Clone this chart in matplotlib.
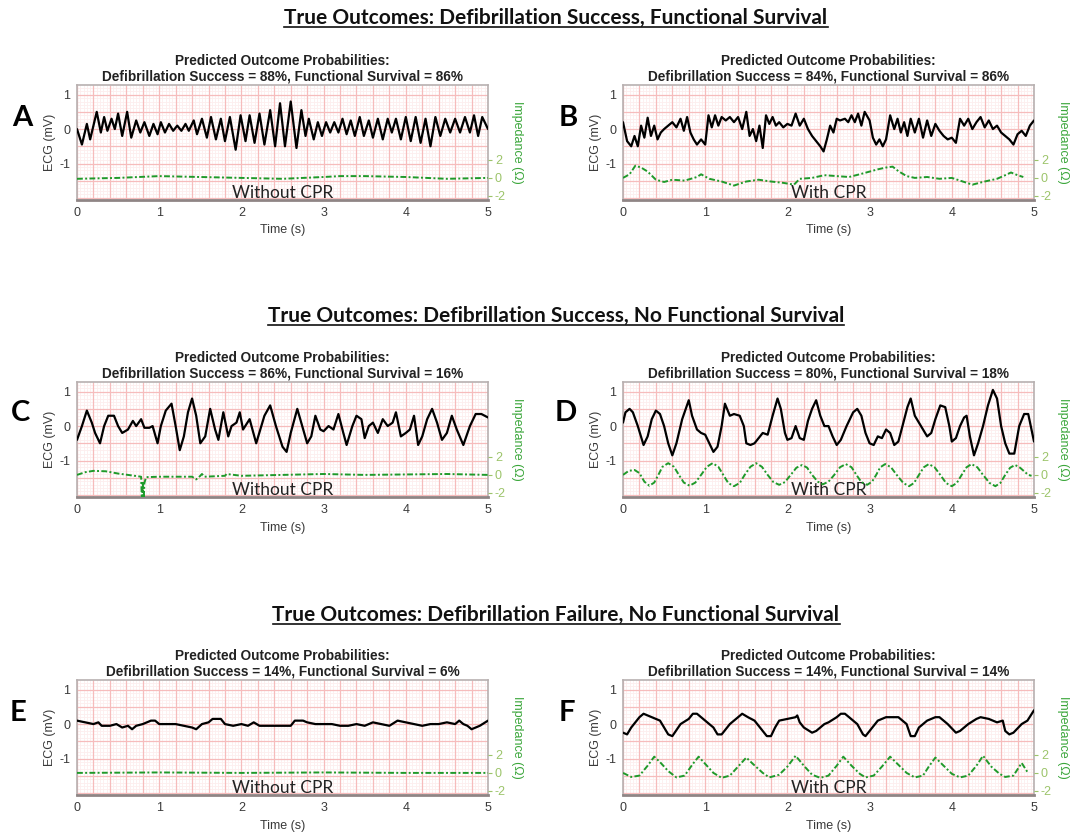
import matplotlib
matplotlib.use("Agg")
import matplotlib.pyplot as plt
import numpy as np
from matplotlib.lines import Line2D

plt.rcParams["axes.unicode_minus"] = False

# ---- values ------------------------------------------------------------
row_titles = [
    "True Outcomes: Defibrillation Success, Functional Survival",
    "True Outcomes: Defibrillation Success, No Functional Survival",
    "True Outcomes: Defibrillation Failure, No Functional Survival",
]
panel_letters = ["A", "B", "C", "D", "E", "F"]
defib_success = [88, 84, 86, 80, 14, 14]
functional_survival = [86, 86, 16, 18, 6, 14]
cpr_labels = ["Without CPR", "With CPR", "Without CPR", "With CPR", "Without CPR", "With CPR"]

# panel A
a_ecg_t = [0.0, 0.06, 0.12, 0.16, 0.24, 0.29, 0.33, 0.37, 0.42, 0.46, 0.50, 0.55, 0.61, 0.66,
           0.72, 0.77, 0.82, 0.88, 0.93, 0.98, 1.02, 1.07, 1.12, 1.17, 1.22, 1.27, 1.32, 1.36,
           1.42, 1.46, 1.52, 1.58, 1.63, 1.69, 1.75, 1.80, 1.86, 1.93, 1.99, 2.05, 2.10, 2.16,
           2.22, 2.28, 2.35, 2.41, 2.47, 2.53, 2.60, 2.67, 2.73, 2.78, 2.82, 2.88, 2.93, 2.98,
           3.03, 3.08, 3.13, 3.18, 3.23, 3.28, 3.33, 3.38, 3.44, 3.49, 3.55, 3.60, 3.66, 3.72,
           3.78, 3.83, 3.88, 3.94, 4.00, 4.06, 4.12, 4.18, 4.24, 4.30, 4.36, 4.42, 4.48, 4.54,
           4.60, 4.66, 4.72, 4.78, 4.83, 4.88, 4.93, 5.0]
a_ecg_v = [0.0, -0.45, 0.15, -0.3, 0.5, -0.1, 0.35, -0.05, 0.3, 0.0, 0.45, -0.2, 0.5, -0.25,
           0.25, -0.1, 0.2, -0.2, 0.15, -0.15, 0.2, -0.1, 0.15, -0.05, 0.1, -0.05, 0.15, -0.05,
           0.25, -0.15, 0.3, -0.25, 0.35, -0.3, 0.3, -0.35, 0.35, -0.6, 0.4, -0.35, 0.4, -0.4,
           0.45, -0.45, 0.55, -0.5, 0.75, -0.5, 0.8, -0.55, 0.55, -0.2, 0.3, -0.3, 0.2, -0.2,
           0.2, -0.1, 0.2, -0.1, 0.3, -0.15, 0.25, -0.2, 0.35, -0.2, 0.25, -0.25, 0.3, -0.3,
           0.3, -0.1, 0.3, -0.3, 0.35, -0.35, 0.35, -0.4, 0.3, -0.5, 0.35, -0.2, 0.3, -0.1,
           0.3, -0.1, 0.35, -0.1, 0.4, -0.2, 0.35, 0.0]
a_imp_t = [0.0, 0.5, 1.0, 1.5, 2.0, 2.5, 3.0, 3.2, 3.5, 4.0, 4.5, 5.0]
a_imp_v = [-0.1, 0.0, 0.2, 0.1, 0.0, -0.1, 0.1, 0.2, 0.2, 0.1, -0.1, 0.0]

# panel B
b_ecg_t = [0.0, 0.05, 0.1, 0.14, 0.18, 0.22, 0.26, 0.3, 0.34, 0.38, 0.42, 0.46, 0.5, 0.55,
           0.6, 0.65, 0.7, 0.74, 0.78, 0.82, 0.86, 0.9, 0.95, 1.0, 1.04, 1.08, 1.12, 1.16,
           1.2, 1.25, 1.3, 1.35, 1.4, 1.45, 1.5, 1.54, 1.58, 1.62, 1.66, 1.7, 1.74, 1.78,
           1.82, 1.86, 1.9, 1.95, 2.0, 2.05, 2.1, 2.15, 2.2, 2.25, 2.3, 2.35, 2.4, 2.44,
           2.48, 2.52, 2.56, 2.6, 2.64, 2.7, 2.74, 2.78, 2.82, 2.86, 2.9, 2.94, 3.0, 3.04,
           3.08, 3.12, 3.16, 3.2, 3.25, 3.3, 3.34, 3.38, 3.42, 3.46, 3.5, 3.55, 3.6, 3.65,
           3.7, 3.75, 3.8, 3.85, 3.9, 3.95, 4.0, 4.05, 4.1, 4.15, 4.2, 4.25, 4.3, 4.35,
           4.4, 4.45, 4.5, 4.55, 4.6, 4.65, 4.7, 4.75, 4.8, 4.85, 4.9, 4.95, 5.0]
b_ecg_v = [0.2, -0.35, -0.5, -0.2, -0.5, 0.1, -0.25, 0.33, -0.2, 0.1, -0.3, -0.1, 0.0, 0.1,
           0.2, 0.05, 0.3, -0.05, 0.35, -0.1, -0.3, -0.45, -0.3, -0.45, 0.4, 0.05, 0.4, 0.1,
           0.35, 0.25, 0.35, 0.2, 0.35, 0.0, 0.5, -0.2, 0.0, -0.35, 0.1, -0.55, 0.4, 0.15,
           0.35, 0.1, 0.2, 0.05, 0.15, 0.1, 0.45, 0.1, 0.3, 0.0, -0.2, -0.35, -0.5, -0.65,
           -0.3, 0.1, -0.1, 0.3, 0.25, 0.3, 0.2, 0.4, 0.2, 0.45, 0.1, 0.5, 0.25, -0.25,
           -0.45, -0.3, -0.5, -0.3, 0.4, 0.0, 0.3, -0.1, 0.2, -0.2, 0.3, -0.1, 0.3, -0.25,
           0.25, -0.2, 0.15, -0.05, -0.2, -0.3, -0.25, -0.4, 0.3, 0.1, 0.3, 0.0, 0.2, 0.35,
           0.05, 0.25, 0.0, 0.1, -0.1, -0.2, -0.3, -0.45, -0.15, -0.05, -0.2, 0.1, 0.25]
b_imp_t = [0.0, 0.08, 0.15, 0.22, 0.3, 0.4, 0.5, 0.6, 0.75, 0.9, 0.95, 1.05, 1.2, 1.35,
           1.5, 1.65, 1.8, 1.95, 2.08, 2.15, 2.3, 2.45, 2.6, 2.75, 2.9, 3.0, 3.1, 3.2, 3.28,
           3.35, 3.45, 3.55, 3.7, 3.85, 4.0, 4.1, 4.25, 4.4, 4.55, 4.65, 4.72, 4.8, 4.87]
b_imp_v = [0.0, 0.4, 1.35, 1.15, 0.7, -0.2, -0.45, -0.2, -0.3, 0.1, 0.4, -0.1, -0.4, -0.85,
           -0.4, -0.2, -0.4, -0.55, -0.75, -0.1, 0.0, 0.3, 0.2, 0.1, 0.45, 0.7, 0.95, 1.15, 1.25,
           0.75, 0.2, 0.0, 0.1, -0.1, 0.0, -0.3, -0.75, -0.4, -0.1, 0.3, 0.6, 0.3, 0.1]

# panel C
c_ecg_t = [0.0, 0.06, 0.12, 0.18, 0.22, 0.28, 0.33, 0.38, 0.45, 0.5, 0.55, 0.62, 0.68, 0.72,
           0.78, 0.82, 0.88, 0.92, 0.98, 1.02, 1.08, 1.15, 1.2, 1.25, 1.3, 1.35, 1.4, 1.45,
           1.5, 1.56, 1.62, 1.68, 1.72, 1.78, 1.84, 1.88, 1.94, 1.98, 2.02, 2.1, 2.18, 2.28,
           2.35, 2.42, 2.5, 2.55, 2.6, 2.68, 2.74, 2.8, 2.85, 2.9, 2.96, 3.0, 3.06, 3.12,
           3.18, 3.24, 3.28, 3.35, 3.4, 3.46, 3.5, 3.55, 3.6, 3.66, 3.72, 3.78, 3.84, 3.88,
           3.94, 4.0, 4.05, 4.1, 4.15, 4.2, 4.26, 4.32, 4.38, 4.44, 4.5, 4.56, 4.62, 4.7,
           4.78, 4.85, 4.92, 5.0]
c_ecg_v = [-0.4, 0.0, 0.45, 0.1, -0.2, -0.5, 0.0, 0.3, 0.3, 0.0, -0.2, -0.1, 0.15, 0.0,
           0.2, -0.05, -0.05, 0.0, -0.5, 0.0, 0.45, 0.65, 0.0, -0.7, -0.3, 0.4, 0.8, 0.3,
           -0.5, -0.3, 0.5, -0.1, -0.4, 0.4, -0.3, 0.0, 0.1, 0.4, -0.1, 0.2, -0.5, 0.3,
           0.6, 0.0, -0.6, -0.75, -0.2, 0.5, 0.0, -0.5, -0.3, 0.3, -0.1, -0.15, 0.0, -0.1,
           0.35, -0.2, -0.55, 0.0, 0.3, 0.2, -0.35, 0.0, 0.1, -0.2, 0.2, 0.0, 0.1, 0.4,
           -0.3, -0.2, -0.1, 0.3, -0.55, -0.3, 0.2, 0.5, 0.1, -0.4, -0.2, 0.3, -0.1, -0.55,
           0.0, 0.35, 0.35, 0.25]
c_imp_t = [0.0, 0.1, 0.2, 0.35, 0.5, 0.7, 0.78, 0.79, 0.8, 0.81, 0.82, 0.84, 1.0, 1.4,
           1.45, 1.5, 1.52, 1.55, 1.8, 1.82, 2.0, 2.5, 3.0, 3.5, 4.0, 4.5, 5.0]
c_imp_v = [0.0, 0.3, 0.45, 0.4, 0.15, -0.1, -0.2, -3.0, -0.7, -3.0, -0.9, -0.25, -0.2, -0.2,
           -0.5, -0.1, 0.1, -0.2, -0.1, 0.1, -0.1, 0.0, 0.1, 0.0, 0.05, 0.1, 0.0]

# panel D
d_ecg_t = [0.0, 0.03, 0.08, 0.12, 0.18, 0.25, 0.3, 0.35, 0.4, 0.45, 0.5, 0.55, 0.6, 0.65,
           0.72, 0.8, 0.84, 0.9, 0.95, 1.0, 1.05, 1.1, 1.15, 1.2, 1.24, 1.3, 1.35, 1.42,
           1.47, 1.5, 1.55, 1.6, 1.7, 1.76, 1.82, 1.88, 1.92, 1.97, 2.0, 2.05, 2.1, 2.15,
           2.2, 2.25, 2.3, 2.35, 2.4, 2.45, 2.5, 2.55, 2.6, 2.65, 2.72, 2.8, 2.85, 2.9,
           2.95, 3.0, 3.05, 3.1, 3.15, 3.2, 3.25, 3.3, 3.35, 3.4, 3.46, 3.5, 3.55, 3.6,
           3.65, 3.7, 3.75, 3.8, 3.86, 3.92, 3.97, 4.0, 4.05, 4.1, 4.15, 4.18, 4.22, 4.27,
           4.32, 4.38, 4.44, 4.5, 4.55, 4.6, 4.65, 4.7, 4.76, 4.82, 4.88, 4.93, 5.0]
d_ecg_v = [0.1, 0.4, 0.5, 0.4, 0.0, -0.55, -0.3, 0.2, 0.45, 0.35, 0.0, -0.5, -0.85, -0.5,
           0.2, 0.75, 0.3, -0.1, -0.2, -0.25, -0.5, -0.75, -0.6, 0.0, 0.65, 0.3, 0.35, 0.3,
           0.0, -0.5, -0.55, -0.5, -0.2, -0.25, 0.3, 0.8, 0.5, -0.2, -0.4, -0.35, 0.0, -0.35,
           -0.4, 0.15, 0.5, 0.75, 0.3, 0.0, 0.0, -0.3, -0.55, -0.4, 0.0, 0.4, 0.5, 0.3,
           -0.2, -0.5, -0.55, -0.3, -0.35, -0.1, -0.2, -0.55, -0.45, 0.0, 0.55, 0.8, 0.3, 0.1,
           -0.1, -0.3, -0.2, 0.2, 0.6, 0.55, 0.0, -0.45, -0.35, 0.0, 0.25, 0.3, -0.3, -0.85,
           -0.5, 0.0, 0.6, 1.05, 0.8, 0.0, -0.5, -0.8, -0.8, 0.0, 0.35, 0.35, -0.45]
d_imp_t = [0.0, 0.07, 0.14, 0.2, 0.26, 0.32, 0.38, 0.43, 0.48, 0.55, 0.62, 0.68, 0.74, 0.81,
           0.88, 0.95, 1.02, 1.09, 1.16, 1.22, 1.28, 1.35, 1.42, 1.48, 1.55, 1.62, 1.69, 1.76,
           1.83, 1.9, 1.97, 2.04, 2.11, 2.18, 2.24, 2.3, 2.37, 2.43, 2.5, 2.57, 2.64, 2.71,
           2.78, 2.84, 2.9, 2.97, 3.03, 3.08, 3.13, 3.19, 3.26, 3.33, 3.41, 3.48, 3.54, 3.6,
           3.66, 3.72, 3.79, 3.86, 3.93, 4.0, 4.06, 4.12, 4.18, 4.24, 4.31, 4.38, 4.46, 4.53,
           4.59, 4.65, 4.71, 4.77, 4.83, 4.88, 4.93, 4.97]
d_imp_v = [0.0, 0.45, 0.55, 0.2, -0.75, -1.2, -0.85, 0.0, 0.9, 1.3, 0.9, 0.0, -0.85, -1.2,
           -0.85, 0.0, 0.9, 1.3, 0.9, 0.0, -0.9, -1.25, -0.9, 0.0, 0.9, 1.3, 0.9, 0.0,
           -0.8, -1.1, -0.8, 0.0, 0.8, 1.1, 0.8, 0.0, -0.75, -1.05, -0.75, 0.0, 0.85, 1.2,
           0.85, 0.0, -0.8, -1.1, -0.75, 0.0, 0.85, 1.2, 0.85, 0.0, -0.9, -1.25, -0.9, 0.0,
           0.85, 1.2, 0.85, 0.0, -0.9, -1.25, -0.9, 0.0, 0.85, 1.2, 0.85, 0.0, -0.9, -1.25,
           -0.9, 0.0, 0.8, 1.1, 0.8, 0.4, 0.0, -0.1]

# panel E
e_ecg_t = [0.0, 0.1, 0.2, 0.26, 0.3, 0.4, 0.48, 0.55, 0.62, 0.67, 0.72, 0.8, 0.9, 0.95,
           1.0, 1.1, 1.2, 1.3, 1.4, 1.45, 1.52, 1.6, 1.65, 1.75, 1.8, 1.9, 2.0, 2.08,
           2.15, 2.22, 2.3, 2.5, 2.6, 2.65, 2.75, 2.8, 2.9, 3.0, 3.1, 3.2, 3.3, 3.4,
           3.5, 3.6, 3.7, 3.8, 3.9, 4.0, 4.1, 4.2, 4.3, 4.4, 4.5, 4.6, 4.65, 4.7,
           4.75, 4.8, 4.9, 5.0]
e_ecg_v = [0.1, 0.05, 0.0, 0.05, -0.05, -0.05, 0.0, -0.1, -0.05, -0.15, -0.05, 0.0, 0.1, 0.1,
           0.0, 0.0, 0.0, -0.05, -0.1, -0.15, 0.0, 0.05, 0.15, 0.15, 0.0, -0.05, 0.0, -0.05,
           0.05, -0.05, -0.05, -0.05, -0.05, 0.1, 0.1, 0.05, 0.0, 0.0, 0.0, -0.05, -0.05, 0.0,
           -0.05, 0.05, 0.0, -0.05, 0.1, 0.05, 0.0, -0.05, 0.0, 0.0, 0.05, 0.0, 0.1, 0.0,
           -0.05, -0.15, -0.05, 0.1]
e_imp_t = [0.0, 1.0, 2.0, 3.0, 4.0, 5.0]
e_imp_v = [0.0, 0.05, 0.0, 0.05, 0.0, 0.0]

# panel F
f_ecg_t = [0.0, 0.05, 0.1, 0.2, 0.25, 0.3, 0.35, 0.45, 0.55, 0.6, 0.7, 0.8, 0.85, 0.9,
           0.95, 1.0, 1.1, 1.15, 1.2, 1.3, 1.4, 1.45, 1.52, 1.6, 1.7, 1.75, 1.8, 1.85,
           1.9, 2.0, 2.1, 2.12, 2.15, 2.2, 2.3, 2.35, 2.45, 2.5, 2.6, 2.65, 2.7, 2.75,
           2.85, 2.92, 2.95, 3.0, 3.1, 3.2, 3.35, 3.45, 3.5, 3.55, 3.6, 3.7, 3.8, 3.85,
           3.9, 3.95, 4.05, 4.1, 4.2, 4.3, 4.35, 4.45, 4.55, 4.62, 4.65, 4.7, 4.75, 4.85,
           4.92, 5.0]
f_ecg_v = [-0.25, -0.3, -0.1, 0.2, 0.3, 0.25, 0.2, 0.1, -0.3, -0.35, 0.0, 0.15, 0.3, 0.3,
           0.2, 0.1, -0.1, -0.3, -0.3, 0.0, 0.2, 0.3, 0.2, 0.1, -0.2, -0.35, -0.35, -0.1,
           0.1, 0.15, 0.2, 0.25, 0.05, -0.1, -0.25, -0.2, 0.0, 0.05, 0.2, 0.3, 0.3, 0.2,
           0.0, -0.3, -0.35, -0.2, 0.1, 0.2, 0.2, 0.0, -0.35, -0.35, -0.1, 0.1, 0.2, 0.2,
           0.1, 0.0, -0.25, -0.2, 0.0, 0.15, 0.2, 0.15, 0.05, 0.1, -0.2, -0.3, -0.25, 0.0,
           0.1, 0.4]
f_imp_t = [0.0, 0.1, 0.2, 0.3, 0.38, 0.45, 0.55, 0.65, 0.75, 0.85, 0.92, 1.0, 1.1, 1.2,
           1.3, 1.42, 1.5, 1.58, 1.7, 1.78, 1.9, 2.0, 2.1, 2.2, 2.3, 2.4, 2.5, 2.6, 2.68,
           2.78, 2.88, 2.95, 3.05, 3.15, 3.25, 3.35, 3.45, 3.55, 3.65, 3.72, 3.8, 3.9, 4.0,
           4.1, 4.2, 4.3, 4.38, 4.48, 4.58, 4.65, 4.75, 4.85, 4.92]
f_imp_v = [0.0, -0.45, -0.3, 0.8, 1.8, 1.2, 0.2, -0.5, -0.3, 1.0, 1.8, 1.0, 0.0, -0.55,
           -0.3, 0.9, 1.7, 1.0, 0.0, -0.5, -0.2, 0.7, 1.9, 0.8, -0.2, -0.55, -0.3, 0.8, 1.8,
           0.8, -0.1, -0.5, -0.3, 0.7, 1.8, 0.9, 0.0, -0.5, -0.3, 0.7, 1.7, 0.8, -0.1,
           -0.5, -0.3, 0.8, 1.9, 0.7, -0.1, -0.45, -0.3, 1.1, 0.1]

ecg_t = [a_ecg_t, b_ecg_t, c_ecg_t, d_ecg_t, e_ecg_t, f_ecg_t]
ecg_v = [a_ecg_v, b_ecg_v, c_ecg_v, d_ecg_v, e_ecg_v, f_ecg_v]
imp_t = [a_imp_t, b_imp_t, c_imp_t, d_imp_t, e_imp_t, f_imp_t]
imp_v = [a_imp_v, b_imp_v, c_imp_v, d_imp_v, e_imp_v, f_imp_v]

# ---- layout -------------------------------------------------------------
W, H = 1076, 833
col_left = [77 / W, 623 / W]
ax_w = 411 / W
ax_h = 115 / H
row_top_px = [85, 382, 680]
row_title_px = [18, 316, 615]
row_title_x = 556
letter_px = [(22, 118), (568, 118), (20, 413), (566, 413), (18, 713), (567, 713)]

MAJOR = "#f6bcbc"
MINOR = "#fdeeee"
GREEN = "#1f9a2a"
TXT = "#3a3a3a"
SANS = "Liberation Sans"
CAL = "Lato"

fig = plt.figure(figsize=(W / 100, H / 100), dpi=100)

title_artists = []
for r, ttl in enumerate(row_titles):
    t = fig.text(row_title_x / W, 1 - row_title_px[r] / H, ttl, ha="center", va="center",
                 fontsize=15, fontweight="bold", family=CAL, color="#111111")
    title_artists.append(t)

for i in range(6):
    r, c = divmod(i, 2)
    bottom = 1 - (row_top_px[r] + 115) / H
    ax = fig.add_axes([col_left[c], bottom, ax_w, ax_h])
    ax.set_xlim(0, 5)
    ax.set_ylim(-2.06, 1.28)

    # ECG paper grid
    ax.vlines(np.arange(0, 5.001, 0.04), -2.06, 1.28, color=MINOR, lw=0.6, zorder=0)
    ax.hlines(np.arange(-2.0, 1.25, 0.1), 0, 5, color=MINOR, lw=0.6, zorder=0)
    ax.vlines(np.arange(0, 5.001, 0.2), -2.06, 1.28, color=MAJOR, lw=0.9, zorder=0)
    ax.hlines(np.arange(-2.0, 1.25, 0.5), 0, 5, color=MAJOR, lw=0.9, zorder=0)

    ax.plot(ecg_t[i], ecg_v[i], color="black", lw=1.6, zorder=3,
            solid_joinstyle="round", solid_capstyle="round")
    ax.text(2.5, -1.86, cpr_labels[i], ha="center", va="center", family=CAL,
            fontsize=12.5, color="#222222", zorder=4)

    ax.set_xticks([0, 1, 2, 3, 4, 5])
    ax.set_yticks([-1, 0, 1])
    ax.tick_params(length=0, labelsize=9, labelcolor=TXT, pad=5)
    for lab in ax.get_xticklabels() + ax.get_yticklabels():
        lab.set_family(SANS)
    ax.set_xlabel("Time (s)", family=SANS, fontsize=9, color=TXT, labelpad=4)
    ax.set_ylabel("ECG (mV)", family=SANS, fontsize=9, color=TXT, labelpad=2)
    ax.set_title("Predicted Outcome Probabilities:\n"
                 f"Defibrillation Success = {defib_success[i]}%, "
                 f"Functional Survival = {functional_survival[i]}%",
                 family=SANS, fontsize=9.8, fontweight="bold", color="#222222",
                 linespacing=1.2, pad=3)
    for s in ax.spines.values():
        s.set_color("#b8b0b0")
        s.set_linewidth(1.2)
    ax.spines["bottom"].set_linewidth(2.0)
    ax.spines["bottom"].set_color("#8f8585")

    ax2 = ax.twinx()
    ax2.set_ylim(-2.45, 10.3)
    ax2.plot(imp_t[i], imp_v[i], color=GREEN, lw=1.4, dashes=(3, 1.2, 1, 1.2), zorder=3)
    ax2.set_yticks([-2, 0, 2])
    ax2.tick_params(axis="y", colors="#9cc46a", labelsize=9, length=3, pad=2)
    for lab in ax2.get_yticklabels():
        lab.set_family(SANS)
    ax2.set_ylabel("Impedance (\u03a9)", family=SANS, fontsize=9, color="#3aa63a",
                   rotation=270, labelpad=12)
    for s in ax2.spines.values():
        s.set_visible(False)

    lx, ly = letter_px[i]
    fig.text(lx / W, 1 - ly / H, panel_letters[i], ha="center", va="center",
             family=CAL, fontweight="bold", fontsize=21, color="black")

# underline the row titles
fig.canvas.draw()
renderer = fig.canvas.get_renderer()
for t in title_artists:
    bb = t.get_window_extent(renderer)
    y = (bb.y0 + 1) / H
    fig.add_artist(Line2D([bb.x0 / W, bb.x1 / W], [y, y], transform=fig.transFigure,
                          color="#111111", lw=1.2))

fig.savefig("out.png", dpi=100)
